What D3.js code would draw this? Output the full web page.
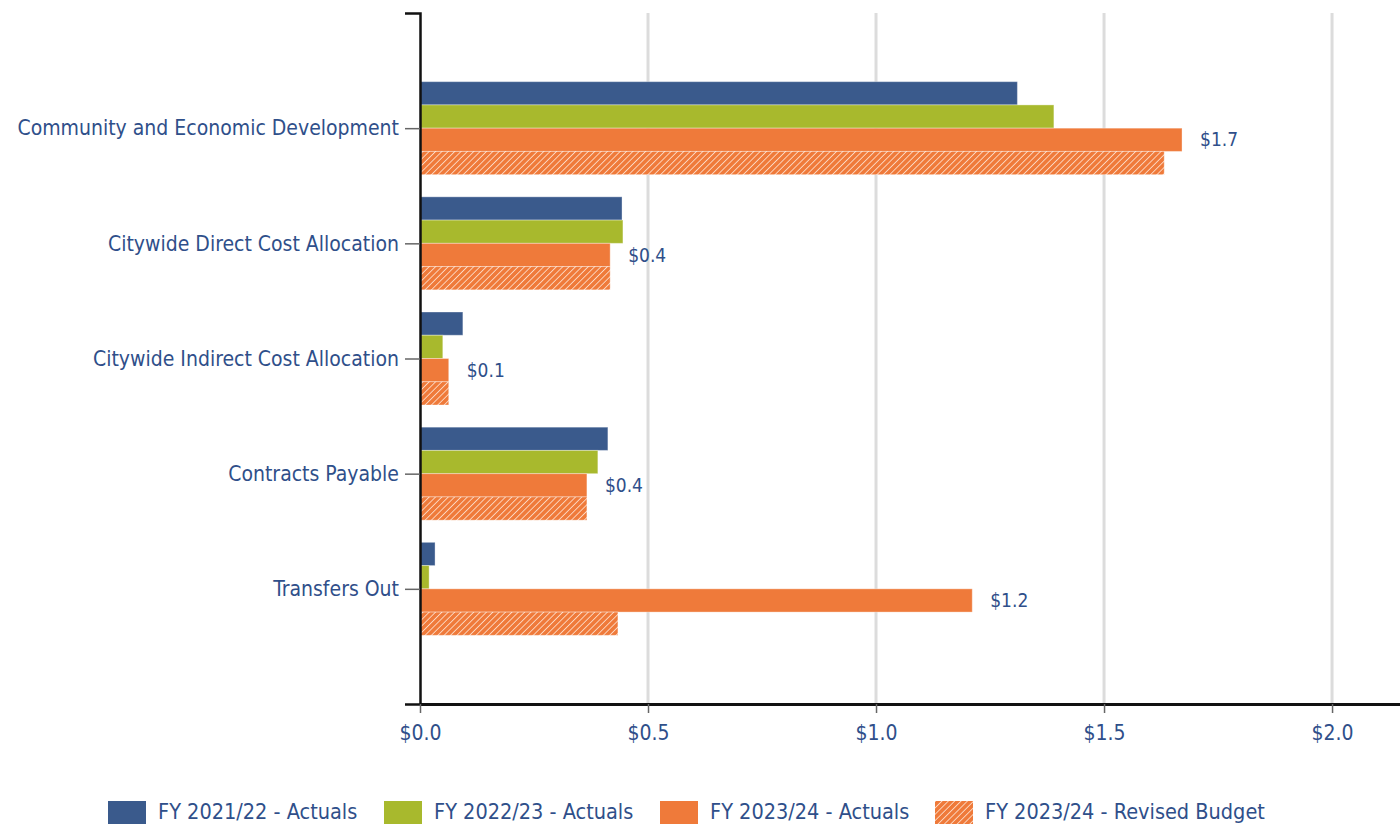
<!DOCTYPE html>
<html>
<head>
    <title>Expenditures by Category</title>
    <script src="https://cdnjs.cloudflare.com/ajax/libs/d3/7.8.5/d3.min.js"></script>
    <style>
        body { margin: 0; background: white; }
        text { font-family: "Liberation Sans Narrow", "DejaVu Sans Condensed", Roboto, sans-serif; fill: #2f4f8a; }
    </style>
</head>
<body>
    <div id="chart"></div>
    <script>
        const categories = [
            'Community and Economic Development',
            'Citywide Direct Cost Allocation',
            'Citywide Indirect Cost Allocation',
            'Contracts Payable',
            'Transfers Out'
        ];
        const seriesNames = [
            'FY 2021/22 - Actuals',
            'FY 2022/23 - Actuals',
            'FY 2023/24 - Actuals',
            'FY 2023/24 - Revised Budget'
        ];
        // values in $ millions, one array per series, in category order
        const fy2122 = [1.31, 0.443, 0.094, 0.412, 0.033];
        const fy2223 = [1.39, 0.445, 0.050, 0.390, 0.020];
        const fy2324 = [1.671, 0.417, 0.063, 0.366, 1.211];
        const fy2324Budget = [1.632, 0.417, 0.063, 0.366, 0.434];
        const dataLabels = ['$1.7', '$0.4', '$0.1', '$0.4', '$1.2'];
        const xTicks = [0, 0.5, 1.0, 1.5, 2.0];

        const seriesValues = [fy2122, fy2223, fy2324, fy2324Budget];
        const colors = ['#3a5a8c', '#a8b92d', '#ef7a3a', 'url(#hatch)'];

        const W = 1400, H = 825;
        const svg = d3.select('#chart').append('svg')
            .attr('width', W).attr('height', H);

        // hatch pattern for the revised budget
        const pat = svg.append('defs').append('pattern')
            .attr('id', 'hatch')
            .attr('patternUnits', 'userSpaceOnUse')
            .attr('width', 4.5).attr('height', 4.5)
            .attr('patternTransform', 'rotate(45)');
        pat.append('rect').attr('width', 4.5).attr('height', 4.5).attr('fill', '#ef7a3a');
        pat.append('line').attr('x1', 0).attr('y1', 0).attr('x2', 0).attr('y2', 4.5)
            .attr('stroke', '#fcd8c2').attr('stroke-width', 1.8);

        const x = d3.scaleLinear().domain([0, 2.149]).range([420, 1400]);
        const y = d3.scalePoint().domain(categories).range([13, 704]).padding(1);
        const barH = 23.25;
        const sub = d3.scaleBand().domain(d3.range(4))
            .range([-2 * barH, 2 * barH]);

        // gridlines
        svg.append('g').selectAll('line')
            .data(xTicks.filter(d => d > 0))
            .join('line')
            .attr('x1', d => x(d)).attr('x2', d => x(d))
            .attr('y1', 13).attr('y2', 704)
            .attr('stroke', '#dcdcdc').attr('stroke-width', 3);

        // bars
        const groups = svg.append('g').selectAll('g')
            .data(categories)
            .join('g')
            .attr('transform', d => `translate(0,${y(d)})`);

        groups.each(function(cat, ci) {
            const g = d3.select(this);
            seriesValues.forEach((vals, si) => {
                g.append('rect')
                    .attr('x', x(0))
                    .attr('y', sub(si))
                    .attr('width', x(vals[ci]) - x(0))
                    .attr('height', sub.bandwidth())
                    .attr('fill', colors[si])
                    .attr('stroke', 'white')
                    .attr('stroke-opacity', 0.35)
                    .attr('stroke-width', 1);
            });
            g.append('text')
                .attr('x', x(fy2324[ci]) + 18)
                .attr('y', sub(2) + sub.bandwidth() / 2)
                .attr('dy', '0.35em')
                .style('font-size', '19px')
                .text(dataLabels[ci]);
        });

        // y axis
        const yAxis = svg.append('g')
            .attr('transform', 'translate(420,0)')
            .call(d3.axisLeft(y).tickSize(15).tickSizeOuter(15).tickPadding(6));
        yAxis.select('.domain').attr('stroke', '#111').attr('stroke-width', 2.5);
        yAxis.selectAll('.tick line').attr('stroke', '#666').attr('stroke-width', 1.5);
        yAxis.selectAll('.tick text')
            .style('font-size', '21px')
            .attr('fill', '#2f4f8a');

        // x axis
        const xAxis = svg.append('g')
            .attr('transform', 'translate(0,704)')
            .call(d3.axisBottom(x).tickValues(xTicks).tickSize(9).tickSizeOuter(0)
                .tickPadding(12)
                .tickFormat(d => '$' + d3.format('.1f')(d)));
        xAxis.select('.domain').attr('stroke', '#111').attr('stroke-width', 3);
        xAxis.selectAll('.tick line').attr('stroke', '#666').attr('stroke-width', 1.5);
        xAxis.selectAll('.tick text')
            .style('font-size', '21px')
            .attr('fill', '#2f4f8a');

        // legend
        const legendX = [108, 384, 660, 935];
        const legend = svg.append('g').selectAll('g')
            .data(seriesNames)
            .join('g')
            .attr('transform', (d, i) => `translate(${legendX[i]},801)`);
        legend.append('rect')
            .attr('width', 38).attr('height', 23)
            .attr('fill', (d, i) => colors[i]);
        legend.append('text')
            .attr('x', 50).attr('y', 18)
            .style('font-size', '21.5px')
            .text(d => d);
    </script>
</body>
</html>
